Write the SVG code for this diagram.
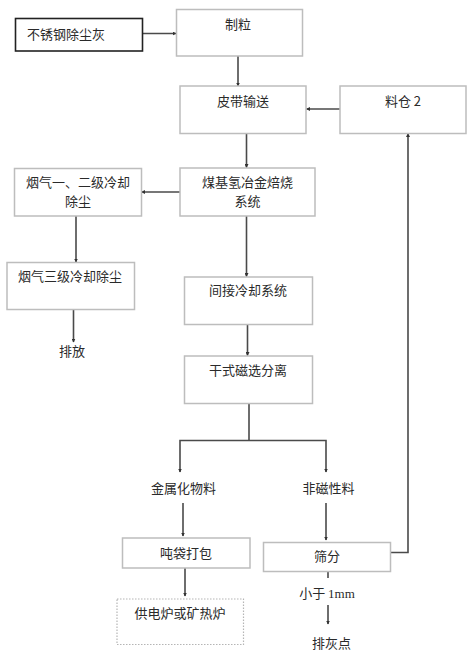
<svg xmlns="http://www.w3.org/2000/svg" width="472" height="655" viewBox="0 0 472 655">
<style>
.b{fill:#fff;stroke:#bdbdbd;stroke-width:1.5}
.k{fill:#fff;stroke:#222;stroke-width:1.6}
.d{fill:#fff;stroke:#b5b5b5;stroke-width:1.2;stroke-dasharray:1.5 1.5}
.t{font-family:"Noto Sans CJK SC","Liberation Sans",sans-serif;font-size:13px;fill:#2a2a2a;text-anchor:middle}
.c{fill:none;stroke:#4a4a4a;stroke-width:1.6}
</style>
<defs>
<marker id="a" markerWidth="4" markerHeight="4" refX="3.5" refY="2" orient="auto" markerUnits="userSpaceOnUse"><path d="M0,0 L4,2 L0,4 Z" fill="#333"/></marker>
</defs>
<rect width="472" height="655" fill="#fff"/>
<g id="connectors">
<path class="c" d="M143,33.5 H176" marker-end="url(#a)"/>
<path class="c" d="M238,56 V86" marker-end="url(#a)"/>
<path class="c" d="M340,109 H306.5" marker-end="url(#a)"/>
<path class="c" d="M246.5,133.5 V167.5" marker-end="url(#a)"/>
<path class="c" d="M180,192 H141.5" marker-end="url(#a)"/>
<path class="c" d="M76,216 V262" marker-end="url(#a)"/>
<path class="c" d="M73.5,310 V342" marker-end="url(#a)"/>
<path class="c" d="M246.5,216 V276.5" marker-end="url(#a)"/>
<path class="c" d="M247.5,324.5 V355.5" marker-end="url(#a)"/>
<path class="c" d="M249,403.5 V440.5"/>
<path class="c" d="M249,440.5 H180 V472" marker-end="url(#a)"/>
<path class="c" d="M249,440.5 H326 V472" marker-end="url(#a)"/>
<path class="c" d="M183,503 V536" marker-end="url(#a)"/>
<path class="c" d="M326,503 V540" marker-end="url(#a)"/>
<path class="c" d="M185,568 V596" marker-end="url(#a)"/>
<path class="c" d="M390.5,552.5 H408 V133.5" marker-end="url(#a)"/>
<path class="c" d="M328,571.5 V578"/>
<path class="c" d="M328,605 V624" marker-end="url(#a)"/>
</g>
<g id="n1"><rect class="k" x="15.5" y="18.5" width="127" height="32.5"/><text class="t" x="27" y="38.5" style="text-anchor:start">不锈钢除尘灰</text></g>
<g id="n2"><rect class="b" x="176.5" y="9.5" width="126" height="46.5"/><text class="t" x="238" y="28.5">制粒</text></g>
<g id="n3"><rect class="b" x="180" y="86" width="126" height="47.5"/><text class="t" x="243" y="106">皮带输送</text></g>
<g id="n4"><rect class="b" x="340" y="86" width="126" height="47.5"/><text class="t" x="403" y="106">料仓 2</text></g>
<g id="n5"><rect class="b" x="180" y="168" width="135" height="48"/><text class="t" x="247.5" y="187">煤基氢冶金焙烧</text><text class="t" x="247.5" y="206">系统</text></g>
<g id="n6"><rect class="b" x="14.5" y="168.5" width="127" height="47.5"/><text class="t" x="78" y="187">烟气一、二级冷却</text><text class="t" x="78" y="206">除尘</text></g>
<g id="n7"><rect class="b" x="7" y="262.5" width="127.5" height="47"/><text class="t" x="70" y="281">烟气三级冷却除尘</text></g>
<g id="n8"><text class="t" x="72" y="355.5">排放</text></g>
<g id="n9"><rect class="b" x="184.5" y="277" width="128" height="47.5"/><text class="t" x="248" y="294.5">间接冷却系统</text></g>
<g id="n10"><rect class="b" x="184.5" y="356" width="128" height="47.5"/><text class="t" x="248" y="374.5">干式磁选分离</text></g>
<g id="n11"><text class="t" x="183.5" y="492.5">金属化物料</text></g>
<g id="n12"><text class="t" x="328.5" y="492.5">非磁性料</text></g>
<g id="n13"><rect class="b" x="122.5" y="538" width="127.5" height="30"/><text class="t" x="186" y="557.5">吨袋打包</text></g>
<g id="n14"><rect class="b" x="263.5" y="542.5" width="127" height="29"/><text class="t" x="327" y="561">筛分</text></g>
<g id="n15"><rect class="d" x="117" y="599" width="126.5" height="45.5"/><text class="t" x="180" y="617.5">供电炉或矿热炉</text></g>
<g id="n16"><text class="t" x="327" y="597.5">小于 <tspan style="font-family:'Liberation Serif',serif">1mm</tspan></text></g>
<g id="n17"><text class="t" x="331.5" y="647.5">排灰点</text></g>
</svg>
